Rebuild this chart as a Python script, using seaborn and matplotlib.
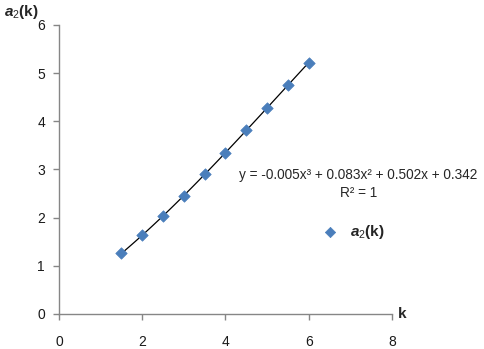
import numpy as np
import pandas as pd
import seaborn as sns
import matplotlib
matplotlib.use("Agg")
import matplotlib.pyplot as plt

# data
k = [1.5, 2.0, 2.5, 3.0, 3.5, 4.0, 4.5, 5.0, 5.5, 6.0]
a2 = [1.26, 1.63, 2.04, 2.46, 2.90, 3.35, 3.81, 4.28, 4.75, 5.22]
x_ticks = [0, 2, 4, 6, 8]
y_ticks = [0, 1, 2, 3, 4, 5, 6]
equation = "y = -0.005x³ + 0.083x² + 0.502x + 0.342"
r2_text = "R² = 1"

sns.set_theme(style="white")
plt.rcParams['font.family'] = ['Liberation Sans', 'DejaVu Sans']
plt.rcParams['mathtext.fontset'] = 'custom'
plt.rcParams['mathtext.it'] = 'Liberation Sans:italic:bold'
plt.rcParams['mathtext.rm'] = 'Liberation Sans'

df = pd.DataFrame({"k": k, "a2": a2})

# cubic trend line like the spreadsheet one
coef = np.polyfit(k, a2, 3)
xs = np.linspace(min(k), max(k), 100)
trend = pd.DataFrame({"k": xs, "a2": np.polyval(coef, xs)})

fig = plt.figure(figsize=(4.84, 3.49), dpi=100)
ax = fig.add_axes([0.1219, 0.1003, 0.688, 0.8281])

sns.lineplot(data=trend, x="k", y="a2", ax=ax, color="black", linewidth=0.9, legend=False)
sns.scatterplot(data=df, x="k", y="a2", ax=ax, marker="D", s=34, color="#4A7EBB",
                edgecolor="#4A7EBB", linewidth=0.5, label="$a_2$(k)", zorder=3)

ax.set_xlim(0, 8)
ax.set_ylim(0, 6)
ax.set_xticks(x_ticks)
ax.set_yticks(y_ticks)
ax.set_xlabel("")
ax.set_ylabel("")

gray = "#868686"
for side in ["top", "right"]:
    ax.spines[side].set_visible(False)
for side in ["left", "bottom"]:
    ax.spines[side].set_color(gray)
    ax.spines[side].set_linewidth(1.0)
ax.tick_params(axis="both", which="major", direction="out", length=4, width=1,
               color=gray, labelsize=10, labelcolor="#1a1a1a")
ax.tick_params(axis="x", pad=11)
ax.tick_params(axis="y", pad=6)
ax.tick_params(bottom=True, left=True)

# axis titles
fig.text(0.008, 0.965, "$a_2$(k)", fontsize=11, fontweight="bold", va="center", ha="left")
fig.text(0.822, 0.099, "k", fontsize=11, fontweight="bold", va="center", ha="left")

# trend line label
fig.text(0.74, 0.499, equation, fontsize=9.8, ha="center", va="center")
fig.text(0.74, 0.447, r2_text, fontsize=9.8, ha="center", va="center")

leg = ax.legend(loc="center left", bbox_to_anchor=(0.622, 0.335), bbox_transform=fig.transFigure,
                frameon=False, fontsize=11, handletextpad=0.3, markerscale=0.9)
for t in leg.get_texts():
    t.set_fontweight("bold")

fig.savefig("out.png", dpi=100)
